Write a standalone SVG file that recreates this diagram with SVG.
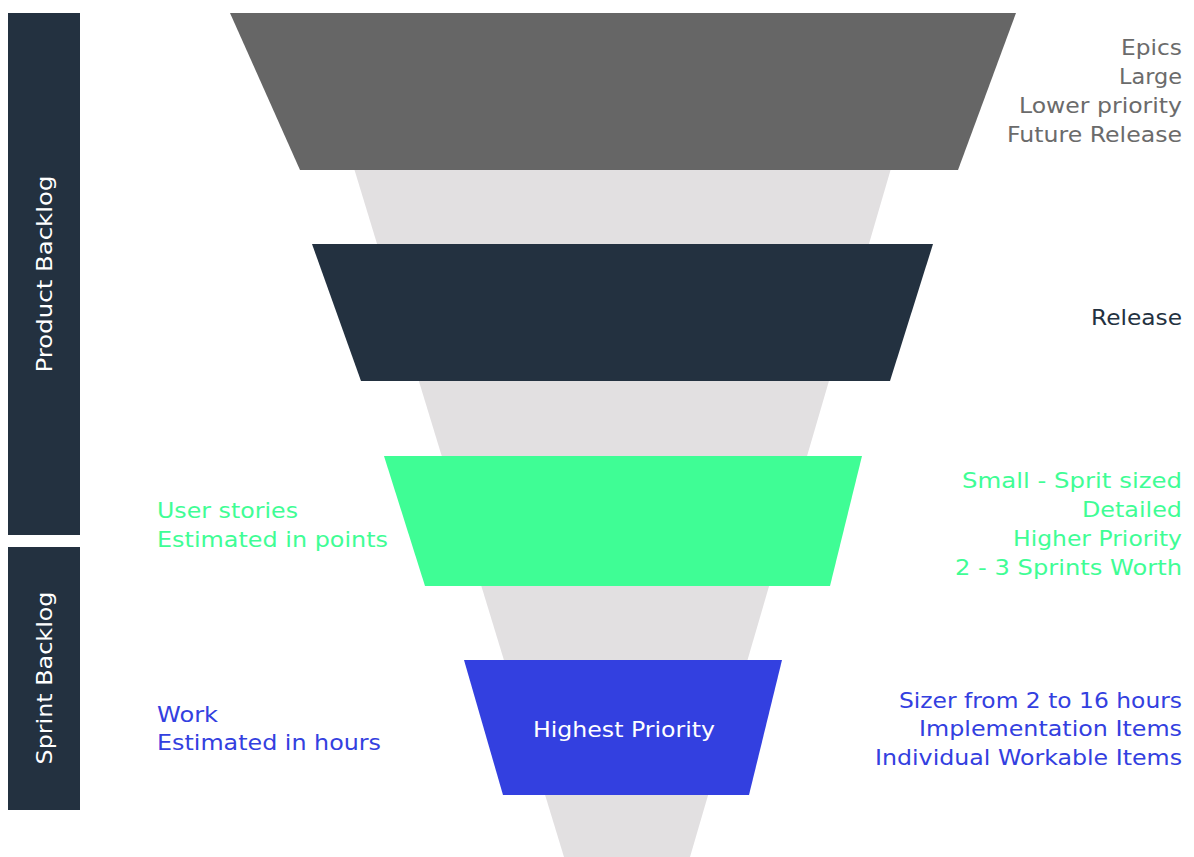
<svg xmlns="http://www.w3.org/2000/svg" width="1194" height="857" viewBox="0 0 1194 857">
<style>
text{font-family:"DejaVu Sans","Liberation Sans",sans-serif;font-size:22px;}
.r{text-anchor:end;}
.side{fill:#ffffff;text-anchor:middle;font-size:22px;}
.gray{fill:#6b6b6b;}
.dark{fill:#233140;}
.green{fill:#3ffd95;}
.blue{fill:#3340e0;}
</style>
<rect width="1194" height="857" fill="#ffffff"/>
<g id="funnel-bg">
<polygon points="353,165 892,165 690,857 564,857" fill="#e2e0e1"/>
</g>
<g id="product-backlog">
<rect x="8" y="13" width="72" height="522" fill="#233140"/>
<text class="side" transform="translate(52,274) rotate(-90)" textLength="197" lengthAdjust="spacingAndGlyphs">Product Backlog</text>
</g>
<g id="sprint-backlog">
<rect x="8" y="547" width="72" height="263" fill="#233140"/>
<text class="side" transform="translate(52,678) rotate(-90)" textLength="173" lengthAdjust="spacingAndGlyphs">Sprint Backlog</text>
</g>
<g id="epics">
<polygon points="230,13 1016,13 958,170 300,170" fill="#666666"/>
<text class="r gray" x="1182" y="55" textLength="61" lengthAdjust="spacingAndGlyphs">Epics</text>
<text class="r gray" x="1182" y="84" textLength="63" lengthAdjust="spacingAndGlyphs">Large</text>
<text class="r gray" x="1182" y="113" textLength="163" lengthAdjust="spacingAndGlyphs">Lower priority</text>
<text class="r gray" x="1182" y="142" textLength="175" lengthAdjust="spacingAndGlyphs">Future Release</text>
</g>
<g id="release">
<polygon points="312,244 933,244 890,381 361,381" fill="#233140"/>
<text class="r dark" x="1182" y="325" textLength="91" lengthAdjust="spacingAndGlyphs">Release</text>
</g>
<g id="user-stories">
<polygon points="384,456 862,456 830,586 425,586" fill="#3ffd95"/>
<text class="green" x="157" y="518" textLength="141" lengthAdjust="spacingAndGlyphs">User stories</text>
<text class="green" x="157" y="547" textLength="231" lengthAdjust="spacingAndGlyphs">Estimated in points</text>
<text class="r green" x="1182" y="488" textLength="220" lengthAdjust="spacingAndGlyphs">Small - Sprit sized</text>
<text class="r green" x="1182" y="517" textLength="100" lengthAdjust="spacingAndGlyphs">Detailed</text>
<text class="r green" x="1182" y="546" textLength="169" lengthAdjust="spacingAndGlyphs">Higher Priority</text>
<text class="r green" x="1182" y="575" textLength="227" lengthAdjust="spacingAndGlyphs">2 - 3 Sprints Worth</text>
</g>
<g id="work">
<polygon points="464,660 782,660 749,795 503,795" fill="#3340e0"/>
<text x="624" y="737" fill="#ffffff" text-anchor="middle" textLength="182" lengthAdjust="spacingAndGlyphs">Highest Priority</text>
<text class="blue" x="157" y="722" textLength="61" lengthAdjust="spacingAndGlyphs">Work</text>
<text class="blue" x="157" y="750" textLength="224" lengthAdjust="spacingAndGlyphs">Estimated in hours</text>
<text class="r blue" x="1182" y="708" textLength="283" lengthAdjust="spacingAndGlyphs">Sizer from 2 to 16 hours</text>
<text class="r blue" x="1182" y="736" textLength="263" lengthAdjust="spacingAndGlyphs">Implementation Items</text>
<text class="r blue" x="1182" y="765" textLength="307" lengthAdjust="spacingAndGlyphs">Individual Workable Items</text>
</g>
<g id="connectors"></g>
</svg>
